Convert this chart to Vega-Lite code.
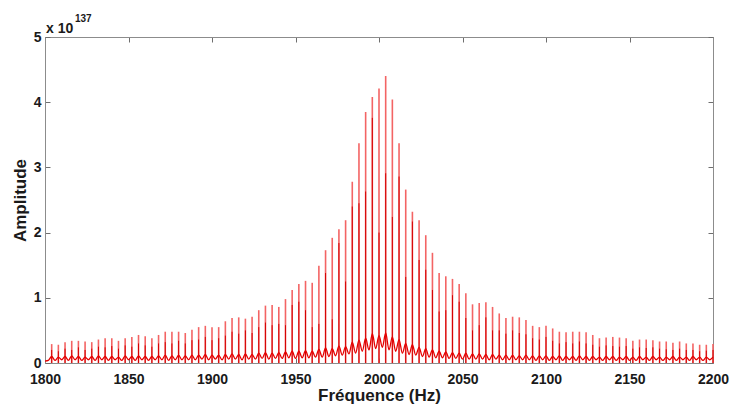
{
  "$schema": "https://vega.github.io/schema/vega-lite/v6.json",
  "width": 668,
  "height": 326,
  "autosize": {"type": "none"},
  "padding": {"left": 45, "top": 37, "right": 17, "bottom": 47},
  "background": "white",
  "config": {
    "view": {"stroke": "#8c8c8c", "strokeWidth": 1},
    "font": "Liberation Sans",
    "axis": {
      "domainColor": "#8c8c8c",
      "tickColor": "#6e6e6e",
      "labelFont": "Liberation Sans",
      "labelFontWeight": "bold",
      "labelFontSize": 14,
      "labelColor": "#1a1a1a",
      "labelFlush": false,
      "labelOverlap": false,
      "titleFont": "Liberation Sans",
      "titleFontWeight": "bold",
      "titleFontSize": 17,
      "titleColor": "#1a1a1a",
      "grid": false
    }
  },
  "datasets": {
    "spikes": [
      {"f":1804,"a":0.29,"b":0.20},{"f":1808,"a":0.28,"b":0.18},{"f":1812,"a":0.32,"b":0.22},{"f":1816,"a":0.34,"b":0.20},
      {"f":1820,"a":0.34,"b":0.24},{"f":1824,"a":0.33,"b":0.20},{"f":1828,"a":0.32,"b":0.22},{"f":1832,"a":0.36,"b":0.25},
      {"f":1836,"a":0.38,"b":0.24},{"f":1840,"a":0.38,"b":0.26},{"f":1844,"a":0.34,"b":0.22},{"f":1848,"a":0.38,"b":0.27},
      {"f":1852,"a":0.40,"b":0.25},{"f":1856,"a":0.43,"b":0.30},{"f":1860,"a":0.41,"b":0.27},{"f":1864,"a":0.38,"b":0.25},
      {"f":1868,"a":0.43,"b":0.30},{"f":1872,"a":0.48,"b":0.32},{"f":1876,"a":0.48,"b":0.30},{"f":1880,"a":0.48,"b":0.34},
      {"f":1884,"a":0.46,"b":0.30},{"f":1888,"a":0.51,"b":0.35},{"f":1892,"a":0.55,"b":0.36},{"f":1896,"a":0.57,"b":0.40},
      {"f":1900,"a":0.55,"b":0.35},{"f":1904,"a":0.55,"b":0.38},{"f":1908,"a":0.64,"b":0.42},{"f":1912,"a":0.69,"b":0.48},
      {"f":1916,"a":0.70,"b":0.45},{"f":1920,"a":0.68,"b":0.50},{"f":1924,"a":0.71,"b":0.46},{"f":1928,"a":0.81,"b":0.55},
      {"f":1932,"a":0.88,"b":0.62},{"f":1936,"a":0.89,"b":0.58},{"f":1940,"a":0.86,"b":0.60},{"f":1944,"a":0.98,"b":0.58},
      {"f":1948,"a":1.12,"b":0.89},{"f":1952,"a":1.21,"b":0.94},{"f":1956,"a":1.26,"b":0.81},{"f":1960,"a":1.23,"b":0.55},
      {"f":1964,"a":1.49,"b":0.60},{"f":1968,"a":1.73,"b":1.38},{"f":1972,"a":1.92,"b":0.67},{"f":1976,"a":2.05,"b":1.84},
      {"f":1980,"a":2.19,"b":1.25},{"f":1984,"a":2.78,"b":2.40},{"f":1988,"a":3.37,"b":2.45},{"f":1992,"a":3.85,"b":2.63},
      {"f":1996,"a":4.08,"b":3.76},{"f":2000,"a":4.21,"b":2.00},{"f":2004,"a":4.40,"b":2.91},{"f":2008,"a":4.04,"b":2.24},
      {"f":2012,"a":3.37,"b":2.86},{"f":2016,"a":2.66,"b":1.32},{"f":2020,"a":2.32,"b":2.17},{"f":2024,"a":2.19,"b":1.58},
      {"f":2028,"a":1.96,"b":1.43},{"f":2032,"a":1.69,"b":1.12},{"f":2036,"a":1.38,"b":0.79},{"f":2040,"a":1.33,"b":0.81},
      {"f":2044,"a":1.29,"b":1.04},{"f":2048,"a":1.21,"b":0.94},{"f":2052,"a":1.07,"b":0.69},{"f":2056,"a":0.90,"b":0.50},
      {"f":2060,"a":0.92,"b":0.58},{"f":2064,"a":0.93,"b":0.70},{"f":2068,"a":0.86,"b":0.50},{"f":2072,"a":0.76,"b":0.50},
      {"f":2076,"a":0.69,"b":0.45},{"f":2080,"a":0.71,"b":0.50},{"f":2084,"a":0.70,"b":0.46},{"f":2088,"a":0.66,"b":0.44},
      {"f":2092,"a":0.57,"b":0.38},{"f":2096,"a":0.55,"b":0.36},{"f":2100,"a":0.57,"b":0.40},{"f":2104,"a":0.53,"b":0.34},
      {"f":2108,"a":0.48,"b":0.30},{"f":2112,"a":0.47,"b":0.32},{"f":2116,"a":0.48,"b":0.30},{"f":2120,"a":0.48,"b":0.33},
      {"f":2124,"a":0.47,"b":0.30},{"f":2128,"a":0.43,"b":0.28},{"f":2132,"a":0.38,"b":0.25},{"f":2136,"a":0.39,"b":0.27},
      {"f":2140,"a":0.40,"b":0.26},{"f":2144,"a":0.39,"b":0.25},{"f":2148,"a":0.38,"b":0.26},{"f":2152,"a":0.34,"b":0.22},
      {"f":2156,"a":0.36,"b":0.24},{"f":2160,"a":0.36,"b":0.23},{"f":2164,"a":0.35,"b":0.24},{"f":2168,"a":0.33,"b":0.22},
      {"f":2172,"a":0.33,"b":0.21},{"f":2176,"a":0.31,"b":0.20},{"f":2180,"a":0.33,"b":0.22},{"f":2184,"a":0.30,"b":0.20},
      {"f":2188,"a":0.30,"b":0.20},{"f":2192,"a":0.28,"b":0.18},{"f":2196,"a":0.28,"b":0.19},{"f":2200,"a":0.29,"b":0.20}
    ],
    "floor": [
      {"f":1800,"v":0.03},{"f":1802,"v":0.04},{"f":1804,"v":0.10},{"f":1806,"v":0.04},{"f":1808,"v":0.09},{"f":1810,"v":0.05},
      {"f":1812,"v":0.10},{"f":1814,"v":0.04},{"f":1816,"v":0.11},{"f":1818,"v":0.05},{"f":1820,"v":0.10},{"f":1822,"v":0.04},
      {"f":1824,"v":0.09},{"f":1826,"v":0.05},{"f":1828,"v":0.10},{"f":1830,"v":0.04},{"f":1832,"v":0.11},{"f":1834,"v":0.05},
      {"f":1836,"v":0.10},{"f":1838,"v":0.04},{"f":1840,"v":0.10},{"f":1842,"v":0.05},{"f":1844,"v":0.09},{"f":1846,"v":0.04},
      {"f":1848,"v":0.11},{"f":1850,"v":0.05},{"f":1852,"v":0.10},{"f":1854,"v":0.04},{"f":1856,"v":0.11},{"f":1858,"v":0.05},
      {"f":1860,"v":0.10},{"f":1862,"v":0.04},{"f":1864,"v":0.10},{"f":1866,"v":0.05},{"f":1868,"v":0.11},{"f":1870,"v":0.05},
      {"f":1872,"v":0.12},{"f":1874,"v":0.04},{"f":1876,"v":0.11},{"f":1878,"v":0.05},{"f":1880,"v":0.12},{"f":1882,"v":0.05},
      {"f":1884,"v":0.11},{"f":1886,"v":0.05},{"f":1888,"v":0.12},{"f":1890,"v":0.05},{"f":1892,"v":0.12},{"f":1894,"v":0.06},
      {"f":1896,"v":0.13},{"f":1898,"v":0.05},{"f":1900,"v":0.12},{"f":1902,"v":0.06},{"f":1904,"v":0.12},{"f":1906,"v":0.05},
      {"f":1908,"v":0.13},{"f":1910,"v":0.06},{"f":1912,"v":0.14},{"f":1914,"v":0.06},{"f":1916,"v":0.13},{"f":1918,"v":0.05},
      {"f":1920,"v":0.14},{"f":1922,"v":0.06},{"f":1924,"v":0.13},{"f":1926,"v":0.06},{"f":1928,"v":0.15},{"f":1930,"v":0.07},
      {"f":1932,"v":0.16},{"f":1934,"v":0.06},{"f":1936,"v":0.15},{"f":1938,"v":0.07},{"f":1940,"v":0.16},{"f":1942,"v":0.07},
      {"f":1944,"v":0.17},{"f":1946,"v":0.08},{"f":1948,"v":0.18},{"f":1950,"v":0.07},{"f":1952,"v":0.18},{"f":1954,"v":0.08},
      {"f":1956,"v":0.19},{"f":1958,"v":0.08},{"f":1960,"v":0.18},{"f":1962,"v":0.09},{"f":1964,"v":0.21},{"f":1966,"v":0.09},
      {"f":1968,"v":0.23},{"f":1970,"v":0.10},{"f":1972,"v":0.22},{"f":1974,"v":0.11},{"f":1976,"v":0.26},{"f":1978,"v":0.12},
      {"f":1980,"v":0.25},{"f":1982,"v":0.14},{"f":1984,"v":0.32},{"f":1986,"v":0.15},{"f":1988,"v":0.35},{"f":1990,"v":0.18},
      {"f":1992,"v":0.38},{"f":1994,"v":0.20},{"f":1996,"v":0.45},{"f":1998,"v":0.22},{"f":2000,"v":0.42},{"f":2002,"v":0.24},
      {"f":2004,"v":0.46},{"f":2006,"v":0.20},{"f":2008,"v":0.40},{"f":2010,"v":0.18},{"f":2012,"v":0.36},{"f":2014,"v":0.15},
      {"f":2016,"v":0.30},{"f":2018,"v":0.13},{"f":2020,"v":0.28},{"f":2022,"v":0.12},{"f":2024,"v":0.24},{"f":2026,"v":0.10},
      {"f":2028,"v":0.22},{"f":2030,"v":0.09},{"f":2032,"v":0.20},{"f":2034,"v":0.08},{"f":2036,"v":0.18},{"f":2038,"v":0.08},
      {"f":2040,"v":0.17},{"f":2042,"v":0.07},{"f":2044,"v":0.16},{"f":2046,"v":0.07},{"f":2048,"v":0.15},{"f":2050,"v":0.06},
      {"f":2052,"v":0.15},{"f":2054,"v":0.06},{"f":2056,"v":0.14},{"f":2058,"v":0.06},{"f":2060,"v":0.14},{"f":2062,"v":0.06},
      {"f":2064,"v":0.13},{"f":2066,"v":0.05},{"f":2068,"v":0.13},{"f":2070,"v":0.06},{"f":2072,"v":0.12},{"f":2074,"v":0.05},
      {"f":2076,"v":0.12},{"f":2078,"v":0.05},{"f":2080,"v":0.12},{"f":2082,"v":0.05},{"f":2084,"v":0.11},{"f":2086,"v":0.05},
      {"f":2088,"v":0.12},{"f":2090,"v":0.05},{"f":2092,"v":0.11},{"f":2094,"v":0.04},{"f":2096,"v":0.11},{"f":2098,"v":0.05},
      {"f":2100,"v":0.11},{"f":2102,"v":0.04},{"f":2104,"v":0.10},{"f":2106,"v":0.05},{"f":2108,"v":0.11},{"f":2110,"v":0.04},
      {"f":2112,"v":0.10},{"f":2114,"v":0.05},{"f":2116,"v":0.10},{"f":2118,"v":0.04},{"f":2120,"v":0.11},{"f":2122,"v":0.05},
      {"f":2124,"v":0.10},{"f":2126,"v":0.04},{"f":2128,"v":0.10},{"f":2130,"v":0.05},{"f":2132,"v":0.09},{"f":2134,"v":0.04},
      {"f":2136,"v":0.10},{"f":2138,"v":0.05},{"f":2140,"v":0.10},{"f":2142,"v":0.04},{"f":2144,"v":0.09},{"f":2146,"v":0.05},
      {"f":2148,"v":0.10},{"f":2150,"v":0.04},{"f":2152,"v":0.09},{"f":2154,"v":0.04},{"f":2156,"v":0.10},{"f":2158,"v":0.05},
      {"f":2160,"v":0.09},{"f":2162,"v":0.04},{"f":2164,"v":0.10},{"f":2166,"v":0.05},{"f":2168,"v":0.09},{"f":2170,"v":0.04},
      {"f":2172,"v":0.09},{"f":2174,"v":0.05},{"f":2176,"v":0.10},{"f":2178,"v":0.04},{"f":2180,"v":0.09},{"f":2182,"v":0.05},
      {"f":2184,"v":0.09},{"f":2186,"v":0.04},{"f":2188,"v":0.10},{"f":2190,"v":0.05},{"f":2192,"v":0.09},{"f":2194,"v":0.04},
      {"f":2196,"v":0.09},{"f":2198,"v":0.05},{"f":2200,"v":0.09}
    ]
  },
  "resolve": {"axis": {"x": "independent", "y": "independent"}},
  "layer": [
    {
      "data": {"name": "spikes"},
      "mark": {"type": "rule", "color": "#f36464", "strokeWidth": 1.6},
      "encoding": {
        "x": {"field": "f", "type": "quantitative", "scale": {"domain": [1800, 2200], "nice": false, "zero": false},
              "axis": {"orient": "bottom", "values": [1800,1850,1900,1950,2000,2050,2100,2150,2200], "format": "d",
                       "tickSize": -5, "labelPadding": 14, "title": "Fréquence (Hz)", "titlePadding": 1}},
        "y": {"field": "a", "type": "quantitative", "scale": {"domain": [0, 5], "nice": false},
              "axis": {"orient": "left", "values": [0,1,2,3,4,5], "tickSize": -5, "labelPadding": 9,
                       "title": "Amplitude", "titlePadding": 4}},
        "y2": {"datum": 0}
      }
    },
    {
      "data": {"name": "spikes"},
      "mark": {"type": "rule", "color": "#d40000", "strokeWidth": 1},
      "encoding": {
        "x": {"field": "f", "type": "quantitative", "scale": {"domain": [1800, 2200], "nice": false, "zero": false},
              "axis": {"orient": "top", "values": [1800,1850,1900,1950,2000,2050,2100,2150,2200], "labels": false,
                       "tickSize": -5, "title": null}},
        "y": {"field": "b", "type": "quantitative", "scale": {"domain": [0, 5], "nice": false},
              "axis": {"orient": "right", "values": [0,1,2,3,4,5], "labels": false, "tickSize": -5, "title": null}},
        "y2": {"datum": 0}
      }
    },
    {
      "data": {"name": "floor"},
      "mark": {"type": "line", "color": "#e60000", "strokeWidth": 1.3, "interpolate": "monotone"},
      "encoding": {
        "x": {"field": "f", "type": "quantitative", "scale": {"domain": [1800, 2200], "nice": false, "zero": false}, "axis": null},
        "y": {"field": "v", "type": "quantitative", "scale": {"domain": [0, 5], "nice": false}, "axis": null}
      }
    },
    {
      "data": {"values": [{}]},
      "mark": {"type": "text", "align": "left", "baseline": "alphabetic", "dx": 1, "dy": -4, "fontSize": 14, "fontWeight": "bold", "font": "Liberation Sans", "color": "#1a1a1a"},
      "encoding": {
        "x": {"datum": 1800, "type": "quantitative", "scale": {"domain": [1800, 2200], "nice": false, "zero": false}, "axis": null},
        "y": {"datum": 5, "type": "quantitative", "scale": {"domain": [0, 5], "nice": false}, "axis": null},
        "text": {"value": "x 10"}
      }
    },
    {
      "data": {"values": [{}]},
      "mark": {"type": "text", "align": "left", "baseline": "alphabetic", "dx": 30, "dy": -15, "fontSize": 10, "fontWeight": "bold", "font": "Liberation Sans", "color": "#1a1a1a"},
      "encoding": {
        "x": {"datum": 1800, "type": "quantitative", "scale": {"domain": [1800, 2200], "nice": false, "zero": false}, "axis": null},
        "y": {"datum": 5, "type": "quantitative", "scale": {"domain": [0, 5], "nice": false}, "axis": null},
        "text": {"value": "137"}
      }
    }
  ]
}
